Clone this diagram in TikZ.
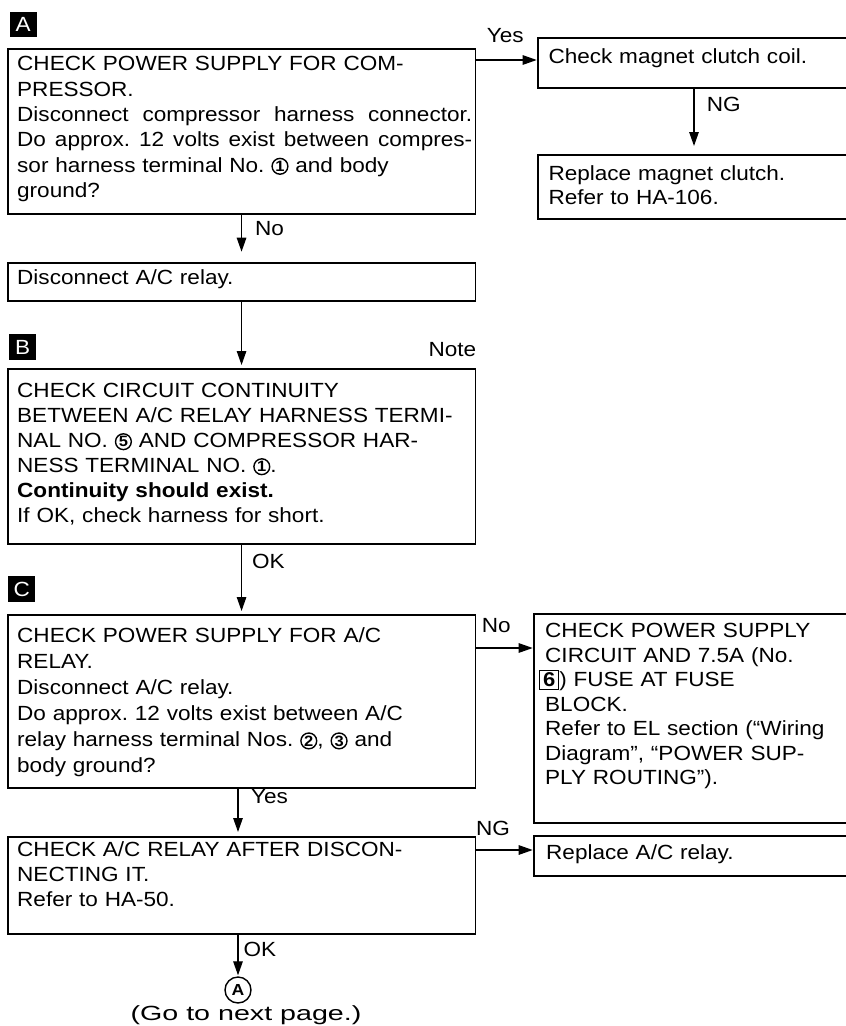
\documentclass[tikz,border=0pt]{standalone}
\usepackage{fontspec}
\setmainfont{Liberation Sans}[FakeStretch=1.1]
\usepackage{graphicx}
\usetikzlibrary{arrows.meta}
\newcommand\fs[1]{\fontsize{20.5pt}{#1pt}\selectfont\frenchspacing}
\newcommand\st{\rule{0pt}{18pt}}
\newcommand\jl[1]{{\spaceskip=0.28em plus 2em\relax\makebox[455pt][s]{#1}}}
\newcommand\cn[1]{\tikz[x=1pt,y=1pt,baseline=0pt]{\draw[line width=1.4pt] (8.2,5.8) circle[radius=7.9]; \node[inner sep=0pt,text width={},anchor=center,font=\fontsize{15pt}{15pt}\selectfont\bfseries] at (8.2,5.8) {#1};}}
\newcommand\bxsix{\tikz[x=1pt,y=1pt,baseline=0pt]{\draw[line width=1.1pt] (0,-2.5) rectangle (19,16); \node[inner sep=0pt,text width={},anchor=center,font=\fontsize{20pt}{20pt}\selectfont\bfseries] at (9.5,6.8) {6};}}
\begin{document}
\begin{tikzpicture}[x=1pt,y=-1pt,
  frame/.style={draw, line width=1.9pt, inner sep=0pt, anchor=north west},
  txt/.style={inner sep=0pt, anchor=north west, align=left, text width=#1},
  txt/.default=460pt,
  lab/.style={inner sep=0pt, anchor=base west, font=\fs{25}},
  tag/.style={fill=black, text=white, inner sep=0pt, anchor=north west, minimum width=27pt, minimum height=25.5pt, font=\fs{25}},
  arr/.style={line width=1.3pt, -{Triangle[length=14pt,width=9.5pt]}},
]
\useasboundingbox (0,0) rectangle (846,1026);

% frames
\node[frame, minimum width=467.8pt, minimum height=165.3pt] (A) at (6.7,47.7) {};
\node[frame, minimum width=467.8pt, minimum height=38.3pt] (DR) at (6.7,261.7) {};
\node[frame, minimum width=467.8pt, minimum height=175pt] (B) at (6.7,368) {};
\node[frame, minimum width=467.8pt, minimum height=172.7pt] (C) at (6.7,614) {};
\node[frame, minimum width=467.8pt, minimum height=96.7pt] (D) at (6.7,836) {};
\node[frame, minimum width=330pt, minimum height=50pt] (CM) at (536.7,37.3) {};
\node[frame, minimum width=330pt, minimum height=64pt] (RM) at (536.7,154) {};
\node[frame, minimum width=330pt, minimum height=209pt] (PS) at (532.7,612.7) {};
\node[frame, minimum width=330pt, minimum height=40pt] (RA) at (532.7,835) {};

% tags
\node[tag] (tagA) at (9.5,11.5) {A};
\node[tag] (tagB) at (9,334) {B};
\node[tag] (tagC) at (8,576) {C};

% texts
\node[txt, font=\fs{25.3}] (At) at (17,52.7) {\st CHECK POWER SUPPLY FOR COM-\\
PRESSOR.\\
\jl{Disconnect compressor harness connector.}\\
\jl{Do approx. 12 volts exist between compres-}\\
sor harness terminal No. \cn{1} and body\\
ground?};

\node[txt, font=\fs{25}] (DRt) at (17,266) {\st Disconnect A/C relay.};

\node[txt, font=\fs{25}] (Bt) at (17,379.3) {\st CHECK CIRCUIT CONTINUITY\\
BETWEEN A/C RELAY HARNESS TERMI-\\
NAL NO. \cn{5} AND COMPRESSOR HAR-\\
NESS TERMINAL NO. \cn{1}.\\
\textbf{Continuity should exist.}\\
If OK, check harness for short.};

\node[txt, font=\fs{26}] (Ct) at (17,624.5) {\st CHECK POWER SUPPLY FOR A/C\\
RELAY.\\
Disconnect A/C relay.\\
Do approx. 12 volts exist between A/C\\
relay harness terminal Nos. \cn{2}, \cn{3} and\\
body ground?};

\node[txt, font=\fs{25}] (Dt) at (17,838) {\st CHECK A/C RELAY AFTER DISCON-\\
NECTING IT.\\
Refer to HA-50.};

\node[txt=300pt, font=\fs{25}] (CMt) at (548.3,45.3) {\st Check magnet clutch coil.};
\node[txt=300pt, font=\fs{23.3}] (RMt) at (548.3,162.7) {\st Replace magnet clutch.\\
Refer to HA-106.};
\node[txt=300pt, font=\fs{24.5}] (PSt) at (545,619.5) {\st CHECK POWER SUPPLY\\
CIRCUIT AND 7.5A (No.\\
\hspace*{-6pt}\bxsix) FUSE AT FUSE\\
BLOCK.\\
Refer to EL section (“Wiring\\
Diagram”, “POWER SUP-\\
PLY ROUTING”).};
\node[txt=300pt, font=\fs{25}] (RAt) at (546,841) {\st Replace A/C relay.};

% end connector
\node[circle, draw, line width=1.4pt, minimum size=26pt, inner sep=0pt, font=\fontsize{16pt}{16pt}\selectfont\bfseries] (goA) at (238,990) {A};
\node[inner sep=0pt, anchor=base, font=\fs{25}] (go) at (246,1020) {\scalebox{1.27}[1]{(Go to next page.)}};

% connectors
\coordinate (yA) at (0,60);
\coordinate (xNG) at (694,0);
\coordinate (yC) at (0,648);
\coordinate (xD) at (238,0);
\coordinate (yD) at (0,850);
\draw[arr] (A.east |- yA) -- (CM.west |- yA);
\draw[arr, shorten >=8pt] (CM.south -| xNG) -- (RM.north -| xNG);
\draw[arr, shorten >=10pt] (A.south) -- (DR.north);
\draw[arr, shorten >=3pt] (DR.south) -- (B.north);
\draw[arr, shorten >=3pt] (B.south) -- (C.north);
\draw[arr] (C.east |- yC) -- (PS.west |- yC);
\draw[arr, shorten >=4pt] (C.south -| xD) -- (D.north -| xD);
\draw[arr] (D.east |- yD) -- (RA.west |- yD);
\draw[arr, shorten >=1pt] (D.south -| xD) -- (goA.north);

% labels
\node[lab] (lYes1) at (486.7,42.5) {Yes};
\node[lab] (lNG1) at (706.7,111) {NG};
\node[lab] (lNo1) at (255,235) {No};
\node[lab] (lNote) at (428.3,356.7) {Note};
\node[lab] (lOK1) at (252,568.3) {OK};
\node[lab] (lNo2) at (481.7,632.5) {No};
\node[lab] (lYes2) at (251,803.3) {Yes};
\node[lab] (lNG2) at (476,835) {NG};
\node[lab] (lOK2) at (243.5,956.7) {OK};
\end{tikzpicture}
\end{document}
